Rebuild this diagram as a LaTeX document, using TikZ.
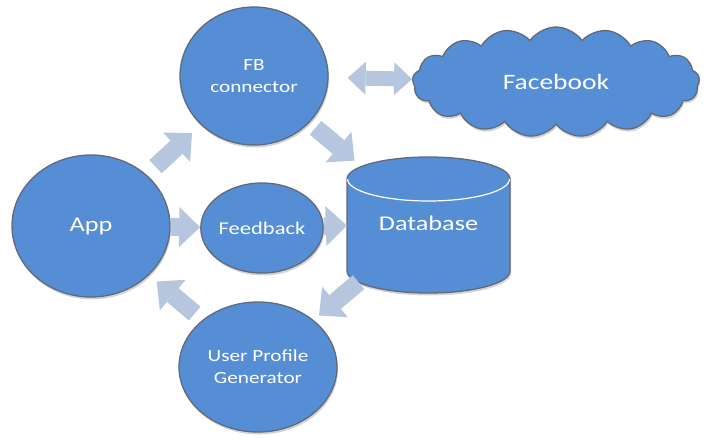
\documentclass[tikz,border=0pt]{standalone}
\usepackage{fontspec}
\setmainfont{Carlito}[FakeStretch=1.25]
\usetikzlibrary{shapes.geometric,shapes.symbols,arrows.meta,shadows}
\definecolor{bubblefill}{RGB}{85,142,213}
\definecolor{bubbleedge}{RGB}{96,106,122}
\definecolor{flowblue}{RGB}{183,198,223}
\tikzset{
  bubble/.style={ellipse, fill=bubblefill, draw=bubbleedge, line width=1.3pt,
    text=white, align=center, inner sep=0pt,
    drop shadow={shadow xshift=1pt, shadow yshift=-2.5pt, opacity=0.35}},
  dbbox/.style={rectangle, text=white, inner sep=0pt},
  flow/.style={draw=flowblue, line width=18pt,
    -{Triangle[length=21pt, width=40pt, line width=0pt]}},
  flowboth/.style={draw=flowblue, line width=15pt,
    {Triangle[length=18pt, width=33pt, line width=0pt]}-{Triangle[length=18pt, width=33pt, line width=0pt]}}
}
\begin{document}
\begin{tikzpicture}[x=1pt, y=-1pt]
        \useasboundingbox (0,0) rectangle (704,438);

        % bubbles
        \node[bubble, minimum width=158pt, minimum height=142pt, font=\fontsize{21}{25}\selectfont] (app) at (91,226) {App};
        \node[bubble, minimum width=148pt, minimum height=138pt, font=\fontsize{17}{22}\selectfont] (fbconn) at (254,76) {FB\\connector};
        \node[bubble, minimum width=106pt, minimum height=90pt, font=\fontsize{18}{22}\selectfont] (feedback) at (262,228) {Feedback};
        \node[bubble, minimum width=158pt, minimum height=130pt, font=\fontsize{17}{22}\selectfont] (profile) at (258,367) {User Profile\\Generator};

        % database drum
        \path[fill=bubblefill, draw=bubbleedge, line width=1.3pt,
              drop shadow={shadow xshift=1pt, shadow yshift=-2.5pt, opacity=0.35}]
          (347,179) -- (347,271) arc[start angle=180, end angle=0, x radius=81.5, y radius=22]
          -- (510,179) arc[start angle=0, end angle=-180, x radius=81.5, y radius=22] -- cycle;
        \draw[white, line width=1.2pt] (347.5,179) arc[start angle=180, end angle=0, x radius=81, y radius=22];
        \node[dbbox, minimum width=163pt, minimum height=136pt, font=\fontsize{21}{25}\selectfont] (db) at (428.5,223) {Database};

        % cloud
        \node[bubble, cloud, cloud puffs=17, cloud puff arc=110, aspect=2.6,
              minimum width=287pt, minimum height=110pt, font=\fontsize{22}{26}\selectfont] (facebook) at (556,82) {Facebook};

        % block arrows
        \draw[flow, shorten <=12pt, shorten >=12pt] (app) -- (fbconn);
        \draw[flow, shorten <=8pt, shorten >=-9pt] (fbconn) -- (db);
        \draw[flow] (app) -- (feedback);
        \draw[flow] (feedback) -- (db);
        \draw[flow, shorten <=-14pt, shorten >=7pt] (db) -- (profile);
        \draw[flow, shorten <=10pt, shorten >=10pt] (profile) -- (app);
        \draw[flowboth, shorten <=19pt] (fbconn) -- (facebook);
    \end{tikzpicture}
\end{document}
